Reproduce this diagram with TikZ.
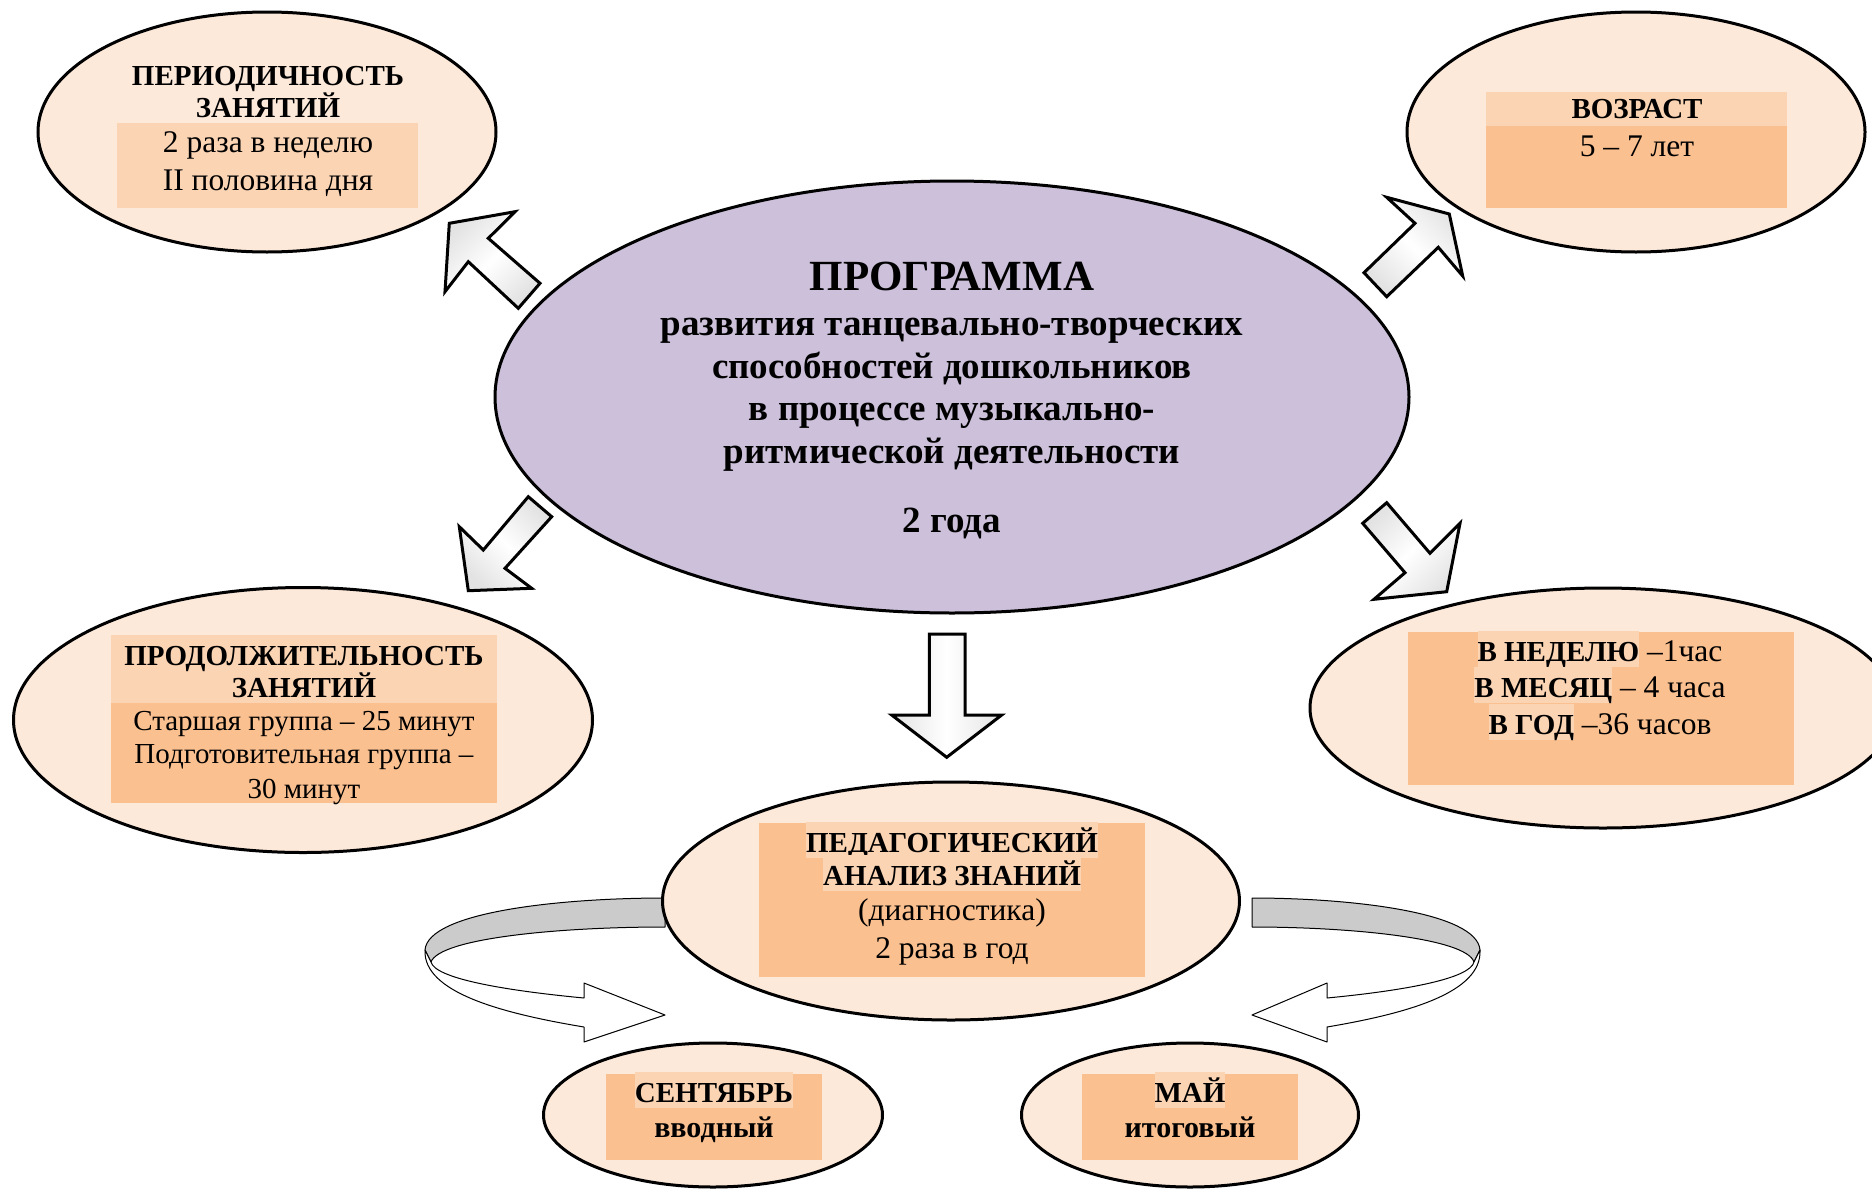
\documentclass[tikz,border=0pt]{standalone}
\usepackage{fontspec}
\setmainfont{Liberation Serif}
\usetikzlibrary{shapes.geometric}
\definecolor{ellfill}{HTML}{FDE9D9}
\definecolor{boxlight}{HTML}{FBD4B4}
\definecolor{boxdark}{HTML}{FAC090}
\definecolor{mainfill}{HTML}{CCC0DA}
\definecolor{ringgray}{HTML}{CBCBCB}
\newcommand{\hlw}[1]{{\setlength{\fboxsep}{0pt}\colorbox{boxlight}{\rule[-6pt]{0pt}{36pt}#1}}}
\begin{document}
\begin{tikzpicture}[x=1pt,y=-1pt,
  oval/.style={ellipse, draw=black, line width=3pt, fill=ellfill, inner sep=0pt},
  txt/.style={anchor=base, inner sep=0pt, font=\fontsize{29}{35}\selectfont},
  rtxt/.style={anchor=base, inner sep=0pt, font=\fontsize{31.5}{37}\selectfont},
  btxt/.style={anchor=base, inner sep=0pt, font=\bfseries\fontsize{29}{35}\selectfont},
  mtxt/.style={anchor=base, inner sep=0pt, font=\bfseries\fontsize{37}{43}\selectfont},
  stxt/.style={anchor=base, inner sep=0pt, font=\bfseries\fontsize{30}{35}\selectfont},
  blockarrow/.style={draw=black, line width=3pt, line join=miter, left color=gray!22, right color=gray!22, middle color=white},
  ring/.style={draw=black, line width=1pt, line join=round}]
\useasboundingbox (0,0) rectangle (1872,1189);
\fill[white] (0,0) rectangle (1872,1189);

% ring arrows (behind the analysis ellipse)
\filldraw[ring, fill=ringgray] (665,898) .. controls (560,898) and (428,912) .. (425,950)
  -- (431,962) .. controls (440,938) and (560,927) .. (665,927) -- cycle;
\filldraw[ring, fill=white] (425,950) .. controls (423,992) and (500,1013) .. (584,1027)
  -- (584,1042) -- (665,1015) -- (584,983) -- (584,998)
  .. controls (500,990) and (435,978) .. (431,962) -- cycle;
\filldraw[ring, fill=ringgray] (1252,898) .. controls (1350,898) and (1477,912) .. (1480,950)
  -- (1474,962) .. controls (1466,938) and (1350,927) .. (1252,927) -- cycle;
\filldraw[ring, fill=white] (1480,950) .. controls (1482,992) and (1410,1013) .. (1327,1027)
  -- (1327,1042) -- (1252,1015) -- (1327,983) -- (1327,998)
  .. controls (1410,990) and (1470,978) .. (1474,962) -- cycle;

% ellipses
\node[oval, minimum width=458pt, minimum height=240pt] (period) at (267,132) {};
\node[oval, minimum width=458pt, minimum height=240pt] (age) at (1636,132) {};
\node[oval, fill=mainfill, minimum width=914pt, minimum height=432pt] (main) at (952,397) {};
\node[oval, minimum width=579pt, minimum height=265pt] (dur) at (303,720) {};
\node[oval, minimum width=586pt, minimum height=240pt] (hours) at (1603,708) {};
\node[oval, minimum width=577pt, minimum height=238pt] (ped) at (951,901) {};
\node[oval, minimum width=339pt, minimum height=144pt] (sep) at (713,1115) {};
\node[oval, minimum width=337pt, minimum height=144pt] (may) at (1190,1115) {};

% coloured boxes
\fill[boxlight] (117,123) rectangle (418,208);
\fill[boxlight] (1486,92) rectangle (1787,126);
\fill[boxdark] (1486,126) rectangle (1787,208);
\fill[boxlight] (111,635) rectangle (497,703);
\fill[boxdark] (111,703) rectangle (497,803);
\fill[boxdark] (1408,632) rectangle (1794,785);
\fill[boxdark] (759,823) rectangle (1145,977);
\fill[boxdark] (606,1074) rectangle (822,1160);
\fill[boxdark] (1082,1074) rectangle (1298,1160);

% block arrows
\filldraw[blockarrow, shading angle=45] (449.3,223.3) -- (515,211.7) -- (488.3,238.3) -- (540,283.3) -- (518.3,308.3) -- (468.3,261.7) -- (445,291.7) -- cycle;
\filldraw[blockarrow, shading angle=-45] (528.3,496.7) -- (551.7,516.7) -- (505,568.3) -- (531.7,588.3) -- (468.3,590.7) -- (459.3,526.7) -- (483.3,550) -- cycle;
\filldraw[blockarrow, shading angle=-45] (1386.7,197.3) -- (1449.3,214) -- (1462.7,276) -- (1438.3,247.3) -- (1386.7,296.7) -- (1364,272.7) -- (1415,223.3) -- cycle;
\filldraw[blockarrow, shading angle=45] (1386.7,502.7) -- (1430,553.3) -- (1460,523.3) -- (1446.7,591.7) -- (1374,599.3) -- (1405,572.7) -- (1362.7,523.3) -- cycle;
\filldraw[blockarrow] (929.3,634) -- (965,634) -- (965,715) -- (1001.7,715) -- (946.7,757.3) -- (891.7,715) -- (929.3,715) -- cycle;

% texts: periodicity
\node[btxt] (p1) at (268,85) {ПЕРИОДИЧНОСТЬ};
\node[btxt] (p2) at (268,117) {ЗАНЯТИЙ};
\node[rtxt] (p3) at (268,152) {2 раза в неделю};
\node[rtxt] (p4) at (268,190) {II половина дня};
% age
\node[btxt] (a1) at (1637,118) {ВОЗРАСТ};
\node[rtxt] (a2) at (1637,156) {5 – 7 лет};
% main
\node[anchor=base, inner sep=0pt, font=\bfseries\fontsize{43}{49}\selectfont] (m0) at (952,290) {ПРОГРАММА};
\node[mtxt] (m1) at (952,335) {развития танцевально-творческих};
\node[mtxt] (m2) at (952,378) {способностей дошкольников};
\node[mtxt] (m3) at (952,420) {в процессе музыкально-};
\node[mtxt] (m4) at (952,463) {ритмической деятельности};
\node[mtxt] (m5) at (952,532) {2 года};
% duration
\node[btxt] (d1) at (304,665) {ПРОДОЛЖИТЕЛЬНОСТЬ};
\node[btxt] (d2) at (304,697) {ЗАНЯТИЙ};
\node[txt] (d3) at (304,730) {Старшая группа – 25 минут};
\node[txt] (d4) at (304,763) {Подготовительная группа –};
\node[txt] (d5) at (304,798) {30 минут};
% hours
\node[rtxt] (h1) at (1600,661) {\hlw{\textbf{\fontsize{29}{35}\selectfont В НЕДЕЛЮ}} –1час};
\node[rtxt] (h2) at (1600,697) {\hlw{\textbf{\fontsize{29}{35}\selectfont В МЕСЯЦ}} – 4 часа};
\node[rtxt] (h3) at (1600,734) {\hlw{\textbf{\fontsize{29}{35}\selectfont В ГОД}} –36 часов};
% analysis
\node[txt] (e1) at (952,852) {\hlw{\textbf{ПЕДАГОГИЧЕСКИЙ}}};
\node[txt] (e2) at (952,885) {\hlw{\textbf{АНАЛИЗ ЗНАНИЙ}}};
\node[rtxt] (e3) at (952,920) {(диагностика)};
\node[rtxt] (e4) at (952,958) {2 раза в год};
% september, may
\node[txt] (s1) at (714,1102) {\hlw{\textbf{СЕНТЯБРЬ}}};
\node[stxt] (s2) at (714,1137) {вводный};
\node[txt] (y1) at (1190,1102) {\hlw{\textbf{МАЙ}}};
\node[stxt] (y2) at (1190,1137) {итоговый};
\end{tikzpicture}
\end{document}
